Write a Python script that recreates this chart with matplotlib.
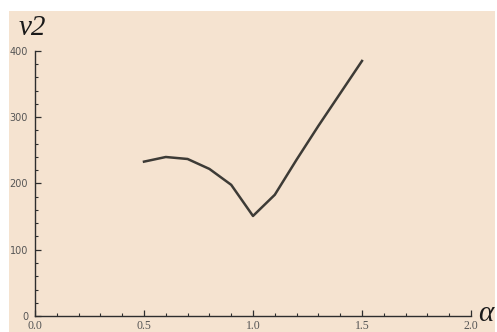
import numpy as np
import matplotlib.pyplot as plt
from matplotlib.patches import Rectangle
from matplotlib.ticker import MultipleLocator

# dados
alpha = [0.5, 0.6, 0.7, 0.8, 0.9, 1.0, 1.1, 1.2, 1.3, 1.4, 1.5]
nu2 = [233, 240, 237, 222, 198, 151, 183, 236, 287, 336, 385]

x_ticks = [0.0, 0.5, 1.0, 1.5, 2.0]
x_labels = ['0.0', '0.5', '1.0', '1.5', '2.0']
y_ticks = [0, 100, 200, 300, 400]
y_labels = ['0', '100', '200', '300', '400']

bg = '#F5E3D0'
W, H = 497, 332

fig = plt.figure(figsize=(W / 100, H / 100), dpi=100, facecolor='white')
fig.patches.append(Rectangle((9 / W, 0), (495 - 9) / W, (H - 11) / H,
                             transform=fig.transFigure, facecolor=bg,
                             edgecolor='none', zorder=-10))

ax = fig.add_axes([35 / W, (H - 316) / H, (471 - 35) / W, (316 - 51) / H])
ax.set_facecolor('none')
ax.set_zorder(5)
ax.plot(alpha, nu2, color='#3d3b36', lw=1.8, clip_on=False)

ax.set_xlim(0, 2.0)
ax.set_ylim(0, 400)
ax.set_xticks(x_ticks)
ax.set_xticklabels(x_labels, family='Liberation Serif')
ax.set_yticks(y_ticks)
ax.set_yticklabels(y_labels)
ax.xaxis.set_minor_locator(MultipleLocator(0.1))
ax.yaxis.set_minor_locator(MultipleLocator(20))

for s in ['top', 'right']:
    ax.spines[s].set_visible(False)
for s in ['left', 'bottom']:
    ax.spines[s].set_color('#2e2e2e')
    ax.spines[s].set_linewidth(1.0)

ax.tick_params(which='major', direction='in', length=4, width=0.9,
               color='#2e2e2e', labelsize=7, labelcolor='#555555')
ax.tick_params(which='minor', direction='in', length=2, width=0.8, color='#2e2e2e')
ax.tick_params(axis='x', pad=3, labelsize=8.5)
ax.tick_params(axis='y', pad=5)

fig.text(19 / W, (H - 28) / H, 'ν2', fontsize=21, style='italic',
         family='Liberation Serif', color='#1a1a1a', va='center', ha='left')
fig.text(478 / W, (H - 314) / H, 'α', fontsize=21, style='italic',
         family='Liberation Serif', color='#1a1a1a', va='center', ha='left')

fig.savefig('out.png', dpi=100, facecolor='white')
